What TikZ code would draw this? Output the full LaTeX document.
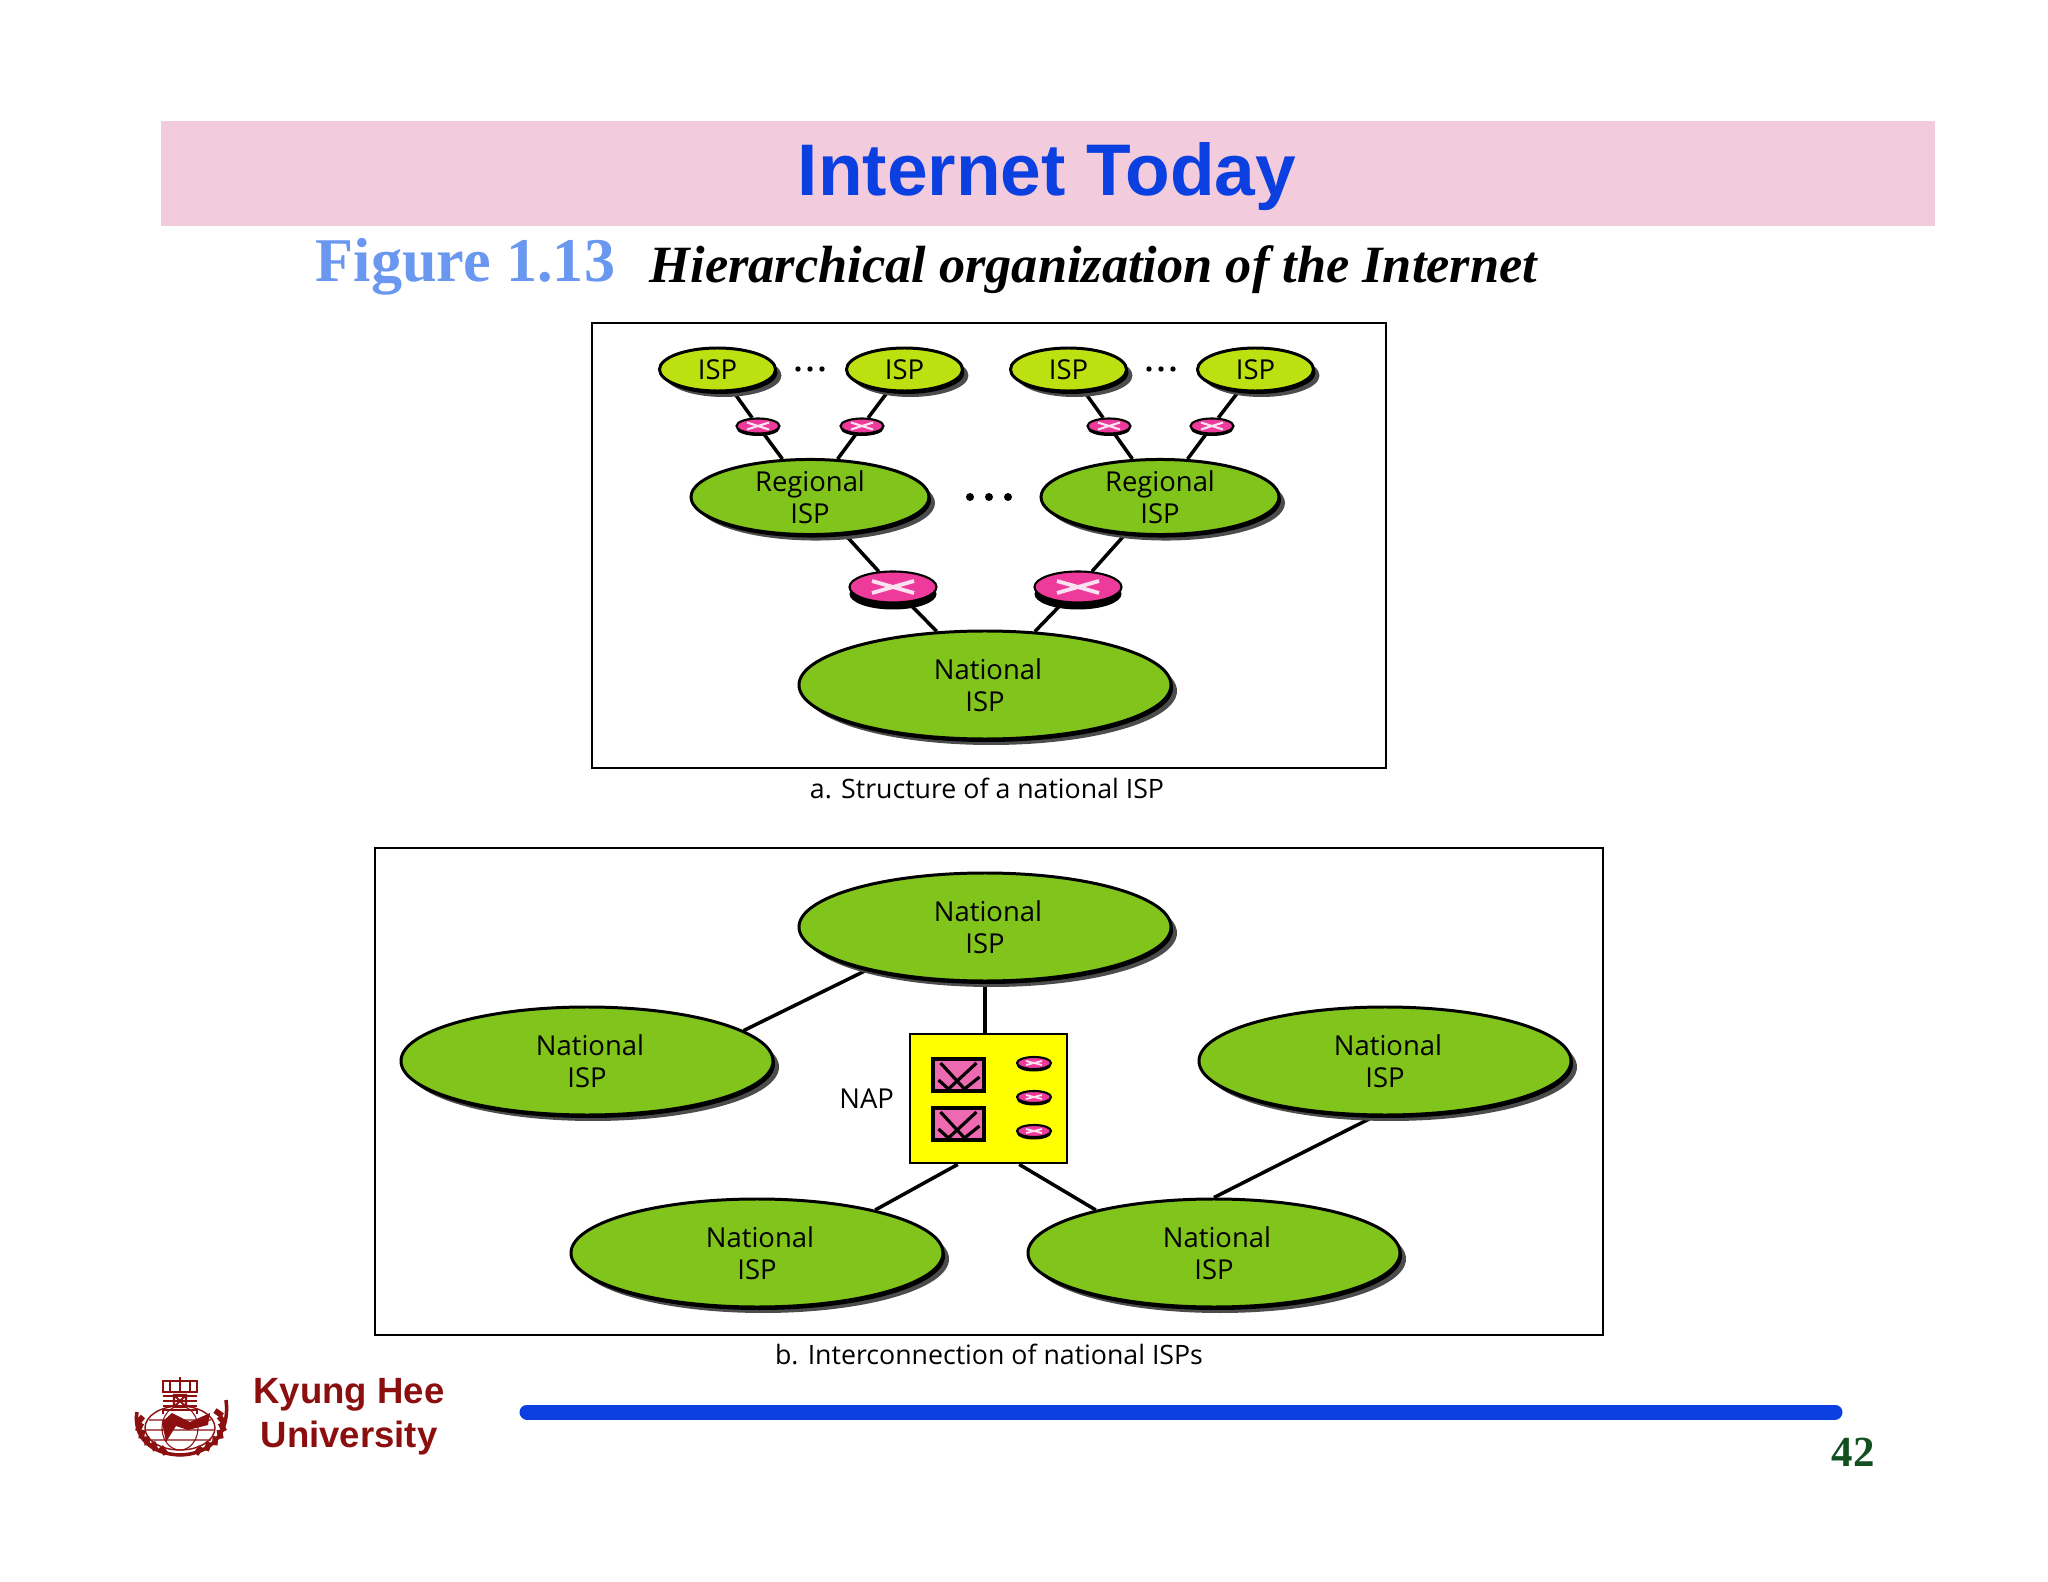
\documentclass[tikz,border=0pt]{standalone}
\usepackage{fontspec}
\setmainfont{Liberation Serif}
\newfontfamily\arialfont{Liberation Sans}
\newfontfamily\figfont{Open Sans}
\usepackage{tikz}
\usetikzlibrary{shapes.geometric, positioning, backgrounds, shadows, calc}

\definecolor{bannerpink}{HTML}{F2CCDD}
\definecolor{titleblue}{HTML}{0B3FE0}
\definecolor{figblue}{HTML}{6A97F0}
\definecolor{ispgreen}{HTML}{80C41C}
\definecolor{isplime}{HTML}{BCE010}
\definecolor{routerpink}{HTML}{EE3A9A}
\definecolor{hubpink}{HTML}{EE6AB0}
\definecolor{napyellow}{HTML}{FFFF00}
\definecolor{khured}{HTML}{8B0F0F}
\definecolor{pagegreen}{HTML}{125020}

\newcommand{\natlabel}{\hspace*{0.06cm}National\\ISP}

\begin{document}
\begin{tikzpicture}[
    node distance=0.68cm,
    figtext/.style={font=\figfont\fontsize{7.8}{9.1}\selectfont, align=center, inner sep=0pt},
    isp/.style={ellipse, draw=black, line width=0.85pt, inner sep=0pt, figtext,
        drop shadow={shadow xshift=0.06cm, shadow yshift=-0.06cm, fill=black!70, opacity=1},
        drop shadow={shadow xshift=0.02cm, shadow yshift=-0.03cm, fill=black, opacity=1}},
    smallisp/.style={isp, fill=isplime, minimum width=1.16cm, minimum height=0.43cm},
    regional/.style={isp, fill=ispgreen, minimum width=2.38cm, minimum height=0.75cm},
    national/.style={isp, fill=ispgreen, minimum width=3.72cm, minimum height=1.08cm},
    router/.style={ellipse, draw=black, line width=0.6pt, fill=routerpink, inner sep=0pt},
    bigrouter/.style={router, minimum width=0.87cm, minimum height=0.31cm,
        drop shadow={shadow xshift=0cm, shadow yshift=-0.07cm, fill=black, opacity=1},
        path picture={\draw[white!85!routerpink, line width=1.1pt] (path picture bounding box.center)
            +(-0.21,-0.06) -- +(0.21,0.06) +(-0.21,0.06) -- +(0.21,-0.06);}},
    tinyrouter/.style={router, minimum width=0.43cm, minimum height=0.15cm,
        drop shadow={shadow xshift=0cm, shadow yshift=-0.025cm, fill=black, opacity=1},
        path picture={\draw[white!85!routerpink, line width=0.6pt] (path picture bounding box.center)
            +(-0.11,-0.035) -- +(0.11,0.035) +(-0.11,0.035) -- +(0.11,-0.035);}},
    naprouter/.style={router, minimum width=0.34cm, minimum height=0.12cm,
        drop shadow={shadow xshift=0cm, shadow yshift=-0.025cm, fill=black, opacity=1},
        path picture={\draw[white!85!routerpink, line width=0.5pt] (path picture bounding box.center)
            +(-0.08,-0.02) -- +(0.08,0.02) +(-0.08,0.02) -- +(0.08,-0.02);}},
    hub/.style={rectangle, draw=black, line width=0.9pt, fill=hubpink, inner sep=0pt,
        minimum width=0.51cm, minimum height=0.32cm,
        path picture={\draw[black, line width=0.9pt] (path picture bounding box.center)
            +(-0.20,-0.05) -- +(-0.10,-0.14) -- +(0.18,0.12)
            +(-0.18,0.12) -- +(0.06,-0.14) -- +(0.21,-0.02);}},
    panel/.style={rectangle, draw=black, line width=0.65pt, inner sep=0pt},
    link/.style={black, line width=1pt},
    caption/.style={figtext, font=\figfont\fontsize{7.6}{9}\selectfont}
]
\useasboundingbox (0,0) rectangle (20.48,-15.82);

% header
\node[rectangle, fill=bannerpink, minimum width=17.74cm, minimum height=1.05cm, inner sep=0pt] (banner) at (10.48,-1.735) {};
\node[font=\arialfont\bfseries\fontsize{20.8}{24}\selectfont, text=titleblue, inner sep=0pt] (title) at (10.47,-1.77) {Internet Today};
\node[font=\bfseries\fontsize{17.7}{20}\selectfont, text=figblue, anchor=west, inner sep=0pt] (figlabel) at (3.15,-2.67) {Figure 1.13};
\node[font=\bfseries\itshape\fontsize{14.9}{18}\selectfont, anchor=west, inner sep=0pt] (figtitle) at (6.49,-2.70) {Hierarchical organization of the Internet};

% a. national ISP
\node[panel, minimum width=7.94cm, minimum height=4.45cm] (panela) at (9.89,-5.455) {};
\node[caption] (captiona) at (9.87,-7.88) {a. Structure of a national ISP};

\node[smallisp] (ispa) at (7.175,-3.695) {ISP};
\node[smallisp, right=of ispa] (ispb) {ISP};
\node[smallisp] (ispc) at (10.685,-3.695) {ISP};
\node[smallisp, right=of ispc] (ispd) {ISP};

\node[tinyrouter] (routera) at (7.58,-4.26) {};
\node[tinyrouter] (routerb) at (8.62,-4.26) {};
\node[tinyrouter] (routerc) at (11.09,-4.26) {};
\node[tinyrouter] (routerd) at (12.12,-4.26) {};

\node[regional] (regionala) at (8.10,-4.97) {Regional\\ISP};
\node[regional] (regionalb) at (11.60,-4.97) {Regional\\ISP};

\node[bigrouter] (routerl) at (8.93,-5.87) {};
\node[bigrouter] (routerr) at (10.78,-5.87) {};

\node[national] (nationala) at (9.85,-6.85) {\natlabel};

\coordinate (dotsa) at (8.10,-3.69);
\coordinate (dotsb) at (11.61,-3.69);
\coordinate (dotsc) at (9.89,-4.97);
\foreach \k in {-1,0,1} {
    \fill (dotsa) +(\k*0.12,0) circle (0.027);
    \fill (dotsb) +(\k*0.12,0) circle (0.027);
    \fill (dotsc) +(\k*0.19,0) circle (0.04);
}

% b. interconnection
\node[panel, minimum width=12.28cm, minimum height=4.87cm] (panelb) at (9.89,-10.915) {};
\node[caption] (captionb) at (9.89,-13.54) {b. Interconnection of national ISPs};

\node[national] (ntop) at (9.85,-9.27) {\natlabel};
\node[national] (nleft) at (5.87,-10.61) {\natlabel};
\node[national] (nright) at (13.85,-10.61) {\natlabel};
\node[national] (nbotl) at (7.57,-12.53) {\natlabel};
\node[national] (nbotr) at (12.14,-12.53) {\natlabel};

\node[rectangle, draw=black, line width=0.8pt, fill=napyellow, minimum width=1.57cm, minimum height=1.29cm, inner sep=0pt] (nap) at (9.885,-10.985) {};
\node[figtext, left=0.14cm of nap] (naplabel) {NAP};
\node[hub] (huba) at (9.585,-10.75) {};
\node[hub] (hubb) at (9.585,-11.24) {};
\node[naprouter] (napra) at (10.34,-10.63) {};
\node[naprouter] (naprb) at (10.34,-10.97) {};
\node[naprouter] (naprc) at (10.34,-11.31) {};

\begin{scope}[on background layer]
    \draw[link] (ispa) -- (routera);
    \draw[link] (ispb) -- (routerb);
    \draw[link] (ispc) -- (routerc);
    \draw[link] (ispd) -- (routerd);
    \draw[link] (routera) -- (regionala.126);
    \draw[link] (routerb) -- (regionala.54);
    \draw[link] (routerc) -- (regionalb.126);
    \draw[link] (routerd) -- (regionalb.54);
    \draw[link] (regionala.-47) -- (routerl);
    \draw[link] (regionalb.-133) -- (routerr);
    \draw[link] (routerl) -- (nationala.132);
    \draw[link] (routerr) -- (nationala.47);
    \draw[link] (ntop.200) -- (nleft.11);
    \draw[link] (ntop.south) -- (ntop.south |- nap.north);
    \draw[link] (nap.245) -- (nbotl.20);
    \draw[link] (nap.-65) -- (nbotr.160);
    \draw[link] (nright.259) -- (nbotr.north);
\end{scope}

% footer
\coordinate (barl) at (5.27,-14.12);
\coordinate (barr) at (18.35,-14.12);
\draw[titleblue, line width=0.15cm, line cap=round] (barl) -- (barr);
\node[font=\arialfont\bfseries\fontsize{10.4}{12}\selectfont, text=khured, inner sep=0pt] (kyung) at (3.49,-13.95) {Kyung Hee};
\node[font=\arialfont\bfseries\fontsize{10.4}{12}\selectfont, text=khured, inner sep=0pt] (univ) at (3.49,-14.38) {University};
\node[font=\bfseries\fontsize{12.2}{14}\selectfont, text=pagegreen, inner sep=0pt] (pagenum) at (18.53,-14.52) {42};

% seal
\begin{scope}[khured]
    \draw[line width=0.8pt] (1.63,-13.81) rectangle (1.97,-13.92);
    \draw[line width=0.6pt] (1.80,-13.77) -- (1.80,-13.92) (1.70,-13.81) -- (1.70,-13.92) (1.90,-13.81) -- (1.90,-13.92);
    \draw[line width=0.8pt] (1.63,-13.96) -- (1.97,-13.96) (1.63,-14.01) -- (1.97,-14.01) (1.63,-14.06) -- (1.97,-14.06);
    \draw[line width=0.6pt] (1.74,-13.95) rectangle (1.86,-14.07) (1.74,-13.95) -- (1.86,-14.07) (1.74,-14.07) -- (1.86,-13.95);
    \draw[line width=0.8pt] (1.63,-14.10) -- (1.97,-14.10) -- (1.97,-14.14) (1.63,-14.10) -- (1.63,-14.14);
    \draw[line width=0.4pt] (1.80,-14.28) ellipse (0.35 and 0.22);
    \draw[line width=0.3pt] (1.80,-14.28) ellipse (0.18 and 0.22) (1.45,-14.30) -- (2.15,-14.30) (1.49,-14.20) -- (2.11,-14.20) (1.49,-14.40) -- (2.11,-14.40);
    \fill (1.62,-14.22) -- (1.72,-14.13) -- (1.90,-14.22) -- (2.10,-14.13) -- (2.08,-14.25) -- (1.88,-14.30) -- (1.76,-14.26) -- (1.66,-14.42) -- cycle;
    \draw[line width=1pt] (1.37,-14.12) .. controls (1.33,-14.36) and (1.50,-14.54) .. (1.80,-14.55);
    \draw[line width=1pt] (2.26,-14.00) .. controls (2.30,-14.30) and (2.14,-14.54) .. (1.80,-14.55);
    \foreach \a in {175,190,205,220,235,250} {
        \draw[line width=1.6pt] ($(1.81,-14.26)+(\a:0.44 and 0.30)$) -- ++(\a+55:-0.09);
    }
    \foreach \a in {-70,-55,-40,-25,-10,5,20} {
        \draw[line width=1.6pt] ($(1.81,-14.26)+(\a:0.44 and 0.30)$) -- ++(\a-55:-0.09);
    }
\end{scope}
\end{tikzpicture}
\end{document}
